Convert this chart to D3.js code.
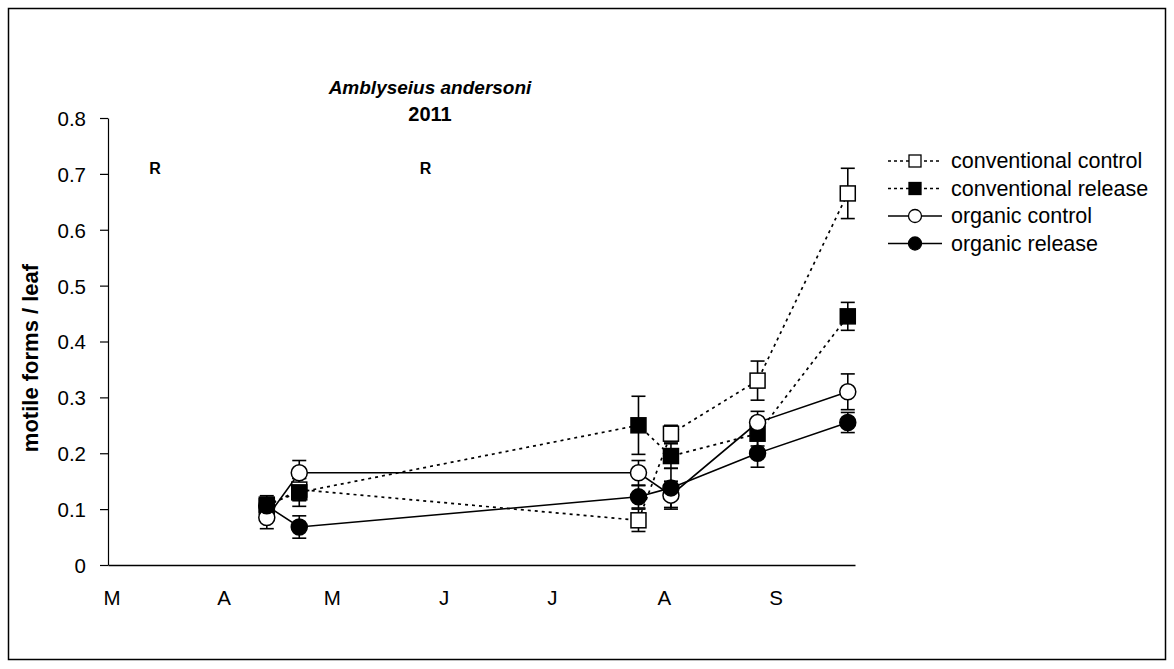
<!DOCTYPE html>
<html><head><meta charset="utf-8">
<script src="https://cdn.jsdelivr.net/npm/d3@7"></script>
<style>body{margin:0;background:#fff}svg{font-family:"Liberation Sans",Arial,sans-serif}</style>
</head><body><svg id="c" width="1174" height="669"></svg>
<script>
const dates = ["2011-04-13","2011-04-22","2011-07-25","2011-08-03","2011-08-27","2011-09-21"];
const convControl = [0.105, 0.135, 0.08, 0.235, 0.33, 0.665];
const convControlErr = [0.015, 0.02, 0.02, 0.015, 0.035, 0.045];
const convRelease = [0.108, 0.13, 0.25, 0.195, 0.235, 0.445];
const convReleaseErr = [0.016, 0.025, 0.052, 0.022, 0.022, 0.025];
const orgControl = [0.085, 0.165, 0.165, 0.125, 0.255, 0.31];
const orgControlErr = [0.02, 0.022, 0.022, 0.025, 0.02, 0.032];
const orgRelease = [0.106, 0.068, 0.122, 0.138, 0.20, 0.255];
const orgReleaseErr = [0.015, 0.02, 0.02, 0.035, 0.025, 0.018];
const monthTicks = ["2011-03-01","2011-04-01","2011-05-01","2011-06-01","2011-07-01","2011-08-01","2011-09-01"];
const monthLabels = ["M","A","M","J","J","A","S"];
const yTicks = [0,0.1,0.2,0.3,0.4,0.5,0.6,0.7,0.8];
const releaseDates = ["2011-03-13","2011-05-27"];
const seriesNames = ["conventional control","conventional release","organic control","organic release"];

const parse = d3.timeParse("%Y-%m-%d");
const svg = d3.select("#c");
svg.append("rect").attr("x",8.5).attr("y",8.5).attr("width",1157).attr("height",651)
  .attr("fill","none").attr("stroke","#000").attr("stroke-width",1.5);

const x = d3.scaleTime().domain([parse("2011-02-28"), parse("2011-09-23")]).range([108, 855]);
const y = d3.scaleLinear().domain([0, 0.8]).range([565, 118]);

// y axis
const ya = svg.append("g").attr("transform","translate(108,0)")
  .call(d3.axisLeft(y).tickValues(yTicks).tickFormat(d => d === 0 ? "0" : d3.format(".1f")(d)).tickSize(8).tickSizeOuter(0));
ya.select(".domain").attr("stroke","#000").attr("stroke-width",1.2);
ya.selectAll(".tick line").attr("stroke","#000").attr("stroke-width",1.2);
ya.selectAll("text").attr("font-size",20.5).attr("fill","#000").attr("x",-22).attr("dy","0.36em").attr("font-family","Liberation Sans, Arial");

// x axis
const xa = svg.append("g").attr("transform","translate(0,565)")
  .call(d3.axisBottom(x).tickValues(monthTicks.map(parse)).tickFormat((d,i) => monthLabels[i]).tickSize(0).tickSizeOuter(0));
xa.select(".domain").attr("stroke","#000").attr("stroke-width",1.5);
xa.selectAll("text").attr("font-size",20.5).attr("fill","#000").attr("y",40).attr("dy",0).attr("font-family","Liberation Sans, Arial");

// titles
svg.append("text").attr("x",430).attr("y",94).attr("text-anchor","middle").attr("font-size",19)
  .attr("font-weight","bold").attr("font-style","italic").text("Amblyseius andersoni");
svg.append("text").attr("x",430).attr("y",121).attr("text-anchor","middle").attr("font-size",20)
  .attr("font-weight","bold").text("2011");
svg.append("text").attr("transform","translate(38,358) rotate(-90)").attr("text-anchor","middle")
  .attr("font-size",22).attr("font-weight","bold").text("motile forms / leaf");

// R markers
svg.selectAll(".rmark").data(releaseDates).join("text").attr("class","rmark")
  .attr("x", d => x(parse(d))).attr("y", y(0.70)).attr("text-anchor","middle")
  .attr("font-size",16).attr("font-weight","bold").text("R");

const series = [
  {name: seriesNames[0], vals: convControl, err: convControlErr, dash: "3,4", shape: "square", fill: "#fff"},
  {name: seriesNames[1], vals: convRelease, err: convReleaseErr, dash: "3,4", shape: "square", fill: "#000"},
  {name: seriesNames[2], vals: orgControl, err: orgControlErr, dash: null, shape: "circle", fill: "#fff"},
  {name: seriesNames[3], vals: orgRelease, err: orgReleaseErr, dash: null, shape: "circle", fill: "#000"}
];

const line = d3.line().x(d => x(d.date)).y(d => y(d.v));
series.forEach(s => {
  s.pts = dates.map((d,i) => ({date: parse(d), v: s.vals[i], e: s.err[i]}));
});
series.forEach(s => {
  svg.append("path").datum(s.pts).attr("d", line).attr("fill","none").attr("stroke","#000")
    .attr("stroke-width", s.dash ? 1.7 : 1.6).attr("stroke-dasharray", s.dash);
});
series.forEach(s => {
  const g = svg.append("g").attr("stroke","#000").attr("stroke-width",1.6);
  s.pts.forEach(p => {
    const cx = x(p.date);
    g.append("line").attr("x1",cx).attr("x2",cx).attr("y1",y(p.v - p.e)).attr("y2",y(p.v + p.e));
    [p.v - p.e, p.v + p.e].forEach(v => g.append("line").attr("x1",cx-7).attr("x2",cx+7).attr("y1",y(v)).attr("y2",y(v)));
  });
});
function marker(g, shape, fill, cx, cy) {
  if (shape === "square") {
    g.append("rect").attr("x",cx-7.5).attr("y",cy-7.5).attr("width",15).attr("height",15)
      .attr("fill",fill).attr("stroke","#000").attr("stroke-width",1.5);
  } else {
    g.append("circle").attr("cx",cx).attr("cy",cy).attr("r",8)
      .attr("fill",fill).attr("stroke","#000").attr("stroke-width",1.5);
  }
}
series.forEach(s => {
  const g = svg.append("g");
  s.pts.forEach(p => marker(g, s.shape, s.fill, x(p.date), y(p.v)));
});

// legend
const lg = svg.append("g");
series.forEach((s,i) => {
  const yy = 161 + i * 27.5;
  lg.append("line").attr("x1",888).attr("x2",942).attr("y1",yy).attr("y2",yy)
    .attr("stroke","#000").attr("stroke-width",1.5).attr("stroke-dasharray", s.dash ? "3,3" : null);
  if (s.shape === "square") {
    lg.append("rect").attr("x",909).attr("y",yy-6).attr("width",12).attr("height",12)
      .attr("fill",s.fill).attr("stroke","#000").attr("stroke-width",1.3);
  } else {
    lg.append("circle").attr("cx",915).attr("cy",yy).attr("r",6.5)
      .attr("fill",s.fill).attr("stroke","#000").attr("stroke-width",1.3);
  }
  lg.append("text").attr("x",951).attr("y",yy+7).attr("font-size",21.5).text(s.name);
});
</script></body></html>
